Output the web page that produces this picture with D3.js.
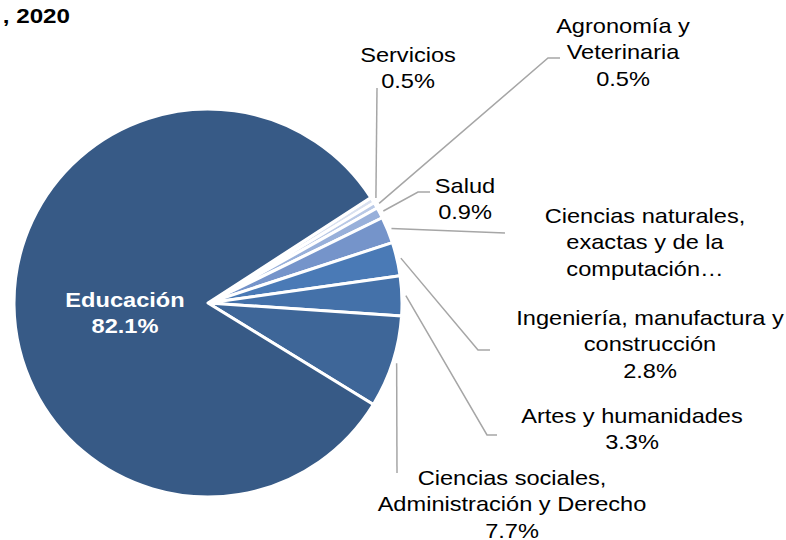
<!DOCTYPE html>
<html>
<head>
<meta charset="utf-8">
<script src="https://cdn.jsdelivr.net/npm/d3@7"></script>
<style>
  body { margin: 0; background: #fff; }
  svg { display: block; font-family: "Liberation Sans", Arial, sans-serif; }
</style>
</head>
<body>
<svg id="chart" width="786" height="540"></svg>
<script>
// --- Data ---
const categories = [
  "Servicios",
  "Agronomía y Veterinaria",
  "Salud",
  "Ciencias naturales, exactas y de la computación",
  "Ingeniería, manufactura y construcción",
  "Artes y humanidades",
  "Ciencias sociales, Administración y Derecho",
  "Educación"
];
const shares = [0.5, 0.5, 0.9, 2.2, 2.8, 3.3, 7.7, 82.1];
const labelLines = [
  ["Servicios", "0.5%"],
  ["Agronomía y", "Veterinaria", "0.5%"],
  ["Salud", "0.9%"],
  ["Ciencias naturales,", "exactas y de la", "computación…"],
  ["Ingeniería, manufactura y", "construcción", "2.8%"],
  ["Artes y humanidades", "3.3%"],
  ["Ciencias sociales,", "Administración y Derecho", "7.7%"],
  ["Educación", "82.1%"]
];
const titleText = ", 2020";

// --- Layout (label anchors and leader line elbows) ---
const colors = ["#d9e1f0", "#b9c9e6", "#98b0da", "#7594ca", "#4a7ab6", "#4471a9", "#3e6698", "#375a86"];
const labelPos = [
  { x: 408, y: 62 },
  { x: 623, y: 33 },
  { x: 465, y: 193 },
  { x: 645, y: 223 },
  { x: 650, y: 325 },
  { x: 632, y: 423 },
  { x: 512, y: 485 },
  { x: 125, y: 307 }
];
const leaderEnds = [
  [[377, 88]],
  [[548, 58], [560, 58]],
  [[418, 192], [430, 192]],
  [[505, 233]],
  [[478, 350], [490, 350]],
  [[487, 435], [497, 435]],
  [[397, 473]],
  null
];

const svg = d3.select("#chart");
const cx = 208, cy = 303, radius = 194;
const lineHeight = 26.5;
const stretch = 1.18; // text in the original is drawn a bit wide

// Title (clipped on the left in the original)
svg.append("text")
  .attr("transform", `translate(70,23) scale(${stretch},1)`)
  .attr("text-anchor", "end")
  .attr("font-size", "20.5px")
  .attr("font-weight", "bold")
  .text(titleText);

const data = categories.map((c, i) => ({ name: c, value: shares[i], i }));

const pie = d3.pie()
  .value(d => d.value)
  .sort(null)
  .startAngle(57.1 * Math.PI / 180)
  .endAngle(57.1 * Math.PI / 180 + 2 * Math.PI);

const arc = d3.arc().innerRadius(0).outerRadius(radius);

const g = svg.append("g").attr("transform", `translate(${cx},${cy})`);
const arcs = pie(data);

g.selectAll("path.slice")
  .data(arcs)
  .enter()
  .append("path")
  .attr("class", "slice")
  .attr("d", arc)
  .attr("fill", d => colors[d.data.i])
  .attr("stroke", "#fff")
  .attr("stroke-width", 3)
  .attr("stroke-linejoin", "round");

// Leader lines
const edge = d3.arc().innerRadius(radius + 4).outerRadius(radius + 4);
arcs.forEach(d => {
  const ends = leaderEnds[d.data.i];
  if (!ends) return;
  const [sx, sy] = edge.centroid(d);
  const pts = [[cx + sx, cy + sy]].concat(ends);
  svg.append("path")
    .attr("d", d3.line()(pts))
    .attr("fill", "none")
    .attr("stroke", "#a6a6a6")
    .attr("stroke-width", 1.5);
});

// Labels
data.forEach(d => {
  const pos = labelPos[d.i];
  const isMain = d.i === data.length - 1;
  const t = svg.append("text")
    .attr("transform", `translate(${pos.x},${pos.y}) scale(${stretch},1)`)
    .attr("text-anchor", "middle")
    .attr("font-size", "20px")
    .attr("fill", isMain ? "#fff" : "#000")
    .attr("font-weight", isMain ? "bold" : "normal");
  labelLines[d.i].forEach((line, k) => {
    t.append("tspan")
      .attr("x", 0)
      .attr("dy", k === 0 ? 0 : lineHeight)
      .text(line);
  });
});
</script>
</body>
</html>
